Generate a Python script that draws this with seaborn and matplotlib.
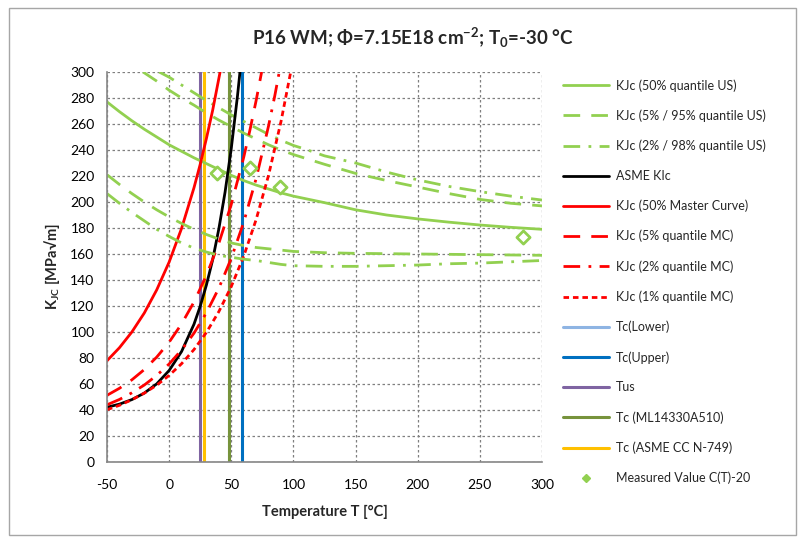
import numpy as np
import pandas as pd
import matplotlib
matplotlib.use("Agg")
import matplotlib.pyplot as plt
from matplotlib.lines import Line2D
from matplotlib.patches import Rectangle
import seaborn as sns

# ---------------- data ----------------
# upper shelf curves (green)
t_us50 = [-50, -40, -30, -20, -10, 0, 10, 20, 30, 40, 50, 60, 70, 80, 90, 100, 110, 125, 150, 175, 200, 225, 250, 275, 300]
k_us50 = [277, 269.5, 262.5, 256, 250, 244, 239, 234, 229.5, 225, 220.5, 216.5, 213, 210, 207, 204.5, 202.5, 199.5, 194, 190, 187, 184.5, 182.3, 180.5, 179]

t_us95 = [-21, -10, 0, 10, 20, 30, 40, 50, 60, 70, 80, 90, 100, 110, 125, 150, 175, 200, 225, 250, 275, 300]
k_us95 = [300, 293, 286, 280, 274.5, 268.5, 263, 258, 253, 248.5, 244, 240, 236.5, 233.5, 229, 222, 216.5, 211.5, 206.5, 202, 199, 197]

t_us98 = [-8, 0, 10, 20, 30, 40, 50, 60, 70, 80, 90, 100, 110, 125, 150, 175, 200, 225, 250, 275, 300]
k_us98 = [300, 296, 290, 284, 278, 272.5, 267, 262, 257, 252, 247.5, 243.5, 240.5, 235.5, 230, 223, 217, 212, 208, 204.5, 201.5]

t_us05 = [-50, -40, -30, -20, -10, 0, 10, 20, 30, 40, 50, 60, 70, 80, 90, 100, 125, 150, 200, 250, 300]
k_us05 = [221, 213.5, 206.5, 200, 194, 188.5, 183.5, 179, 175, 171.5, 168.5, 166.5, 165, 164, 163, 162, 161, 160.5, 160, 159.5, 159]

t_us02 = [-50, -40, -30, -20, -10, 0, 10, 20, 30, 40, 50, 60, 70, 80, 90, 100, 125, 150, 175, 200, 225, 250, 275, 300]
k_us02 = [206.5, 199, 192, 185.5, 179, 173.5, 168.5, 164.5, 161.5, 159, 157.5, 156, 155, 153.5, 152, 151, 150.5, 150.5, 151, 151.5, 152.5, 153, 154, 155]

# ASME KIc (black)
t_asme = [-50, -40, -30, -20, -10, 0, 10, 20, 25, 30, 35, 40, 45, 50, 55, 57]
k_asme = [42.1, 44.5, 48.0, 53.0, 60.1, 70.4, 85.0, 106.0, 119.8, 136.2, 155.5, 179.4, 207.6, 241.3, 281.7, 300]

# master curve (red)
t_mc50 = [-50, -40, -30, -20, -10, 0, 10, 20, 25, 30, 35, 41]
k_mc50 = [77.9, 87.9, 100, 114.6, 132.4, 153.8, 179.7, 211.0, 229.0, 248.9, 270.5, 300]

t_mc05 = [-50, -40, -30, -20, -10, 0, 10, 20, 30, 40, 50, 60, 65, 70, 74.4]
k_mc05 = [51.3, 56.7, 63.2, 71.1, 80.7, 92.2, 106.2, 123.1, 143.6, 168.3, 198.2, 234.4, 255.3, 278.1, 300]

t_mc02 = [-50, -40, -30, -20, -10, 0, 10, 20, 30, 40, 50, 60, 70, 80, 85, 88.6]
k_mc02 = [44.0, 48.1, 53.2, 59.2, 66.6, 75.4, 86.2, 99.1, 114.8, 133.8, 156.7, 184.5, 218.0, 258.6, 281.7, 300]

t_mc01 = [-50, -40, -30, -20, -10, 0, 10, 20, 30, 40, 50, 60, 70, 80, 90, 97.8]
k_mc01 = [40.2, 43.6, 47.9, 53.0, 59.1, 66.6, 75.6, 86.5, 99.7, 115.7, 135.0, 158.3, 186.5, 220.6, 261.9, 300]

# transition temperatures (vertical lines)
tc_lower = 48.5
tc_upper = 58.5
t_us = 25.0
tc_ml = 48.5
tc_asme = 28.3

# measured values C(T)-20
t_meas = [38.5, 65, 89.5, 284.5]
k_meas = [222, 226.5, 211.5, 173]

x_ticks = [-50, 0, 50, 100, 150, 200, 250, 300]
y_ticks = list(range(0, 301, 20))

# ---------------- styling ----------------
sns.set_theme(style="white")
fonts = ["Lato", "DejaVu Sans"]
plt.rcParams["font.family"] = fonts
plt.rcParams["mathtext.default"] = "regular"
plt.rcParams["axes.unicode_minus"] = False

GREEN = "#92D050"
RED = "#FF0000"

fig = plt.figure(figsize=(8.01, 5.41), dpi=100)
fig.patch.set_facecolor("white")
fig.add_artist(Rectangle((0.011, 0.011), 0.983, 0.975, transform=fig.transFigure,
                         fill=False, edgecolor="#A6A6A6", linewidth=1))

ax = fig.add_axes([107 / 801, 1 - 462 / 541, 435 / 801, 390 / 541])

long_dash = (0, (6, 4))
dash_dot = (0, (6, 3, 1, 3))
sq_dot = (0, (2, 1.4))

curves = [
    (t_us50, k_us50, GREEN, "-", "KJc (50% quantile US)"),
    (t_us95, k_us95, GREEN, long_dash, "KJc (5% / 95% quantile US)"),
    (t_us98, k_us98, GREEN, dash_dot, "KJc (2% / 98% quantile US)"),
    (t_asme, k_asme, "black", "-", "ASME KIc"),
    (t_mc50, k_mc50, RED, "-", "KJc (50% Master Curve)"),
    (t_mc05, k_mc05, RED, long_dash, "KJc (5% quantile MC)"),
    (t_mc02, k_mc02, RED, dash_dot, "KJc (2% quantile MC)"),
    (t_mc01, k_mc01, RED, sq_dot, "KJc (1% quantile MC)"),
]
# the lower green bands share their style with the upper ones, no legend entry
extra = [
    (t_us05, k_us05, GREEN, long_dash),
    (t_us02, k_us02, GREEN, dash_dot),
]

handles = []
for t, k, c, ls, lab in curves:
    sns.lineplot(x=t, y=k, ax=ax, color=c, linestyle=ls, linewidth=2, sort=False, zorder=4)
    handles.append(Line2D([], [], color=c, linestyle=ls, linewidth=2, label=lab))
for t, k, c, ls in extra:
    sns.lineplot(x=t, y=k, ax=ax, color=c, linestyle=ls, linewidth=2, sort=False, zorder=4)

vlines = [
    (tc_lower, "#8EB4E3", "Tc(Lower)"),
    (tc_upper, "#0070C0", "Tc(Upper)"),
    (t_us, "#7F64A2", "Tus"),
    (tc_ml, "#77933C", "Tc (ML14330A510)"),
    (tc_asme, "#FFC000", "Tc (ASME CC N-749)"),
]
for x, c, lab in vlines:
    ax.axvline(x, color=c, linewidth=2.2, zorder=3)
    handles.append(Line2D([], [], color=c, linewidth=2.2, label=lab))

sns.scatterplot(x=t_meas, y=k_meas, ax=ax, marker="D", s=45, facecolor="white",
                edgecolor=GREEN, linewidth=2, zorder=5)
handles.append(Line2D([], [], color=GREEN, marker="D", markersize=4, linestyle="none",
                      label="Measured Value C(T)-20"))

# axes
ax.set_xlim(-50, 300)
ax.set_ylim(0, 300)
ax.set_xticks(x_ticks)
ax.set_yticks(y_ticks)
ax.grid(True, color="#7F7F7F", linestyle=(0, (2, 2)), linewidth=0.9, zorder=0)
ax.set_axisbelow(True)
for side in ["top", "right"]:
    ax.spines[side].set_visible(False)
for side in ["left", "bottom"]:
    ax.spines[side].set_color("#868686")
    ax.spines[side].set_linewidth(1.2)
    ax.spines[side].set_zorder(6)
ax.tick_params(axis="both", which="both", direction="out", length=5, width=1,
               color="#868686", labelsize=10, labelcolor="#000000", pad=4)
ax.tick_params(axis="x", pad=7)

ax.set_xlabel("Temperature T [°C]", fontsize=10.5, fontweight="bold", labelpad=10)
ax.set_ylabel("K$_{JC}$ [MPa√m]", fontsize=10.5, fontweight="bold", labelpad=6)

fig.text(413 / 801, 1 - 38 / 541,
         "P16 WM; Φ=7.15E18 cm$^{-2}$; T$_0$=-30 °C",
         ha="center", va="center", fontsize=13.5, fontweight="bold")

fig.legend(handles=handles, loc="upper left", bbox_to_anchor=(558 / 801, 1 - 74 / 541),
           frameon=False, fontsize=9, handlelength=3.7, handletextpad=0.5,
           labelspacing=1.42, borderaxespad=0)

fig.savefig("out.png", dpi=100)
